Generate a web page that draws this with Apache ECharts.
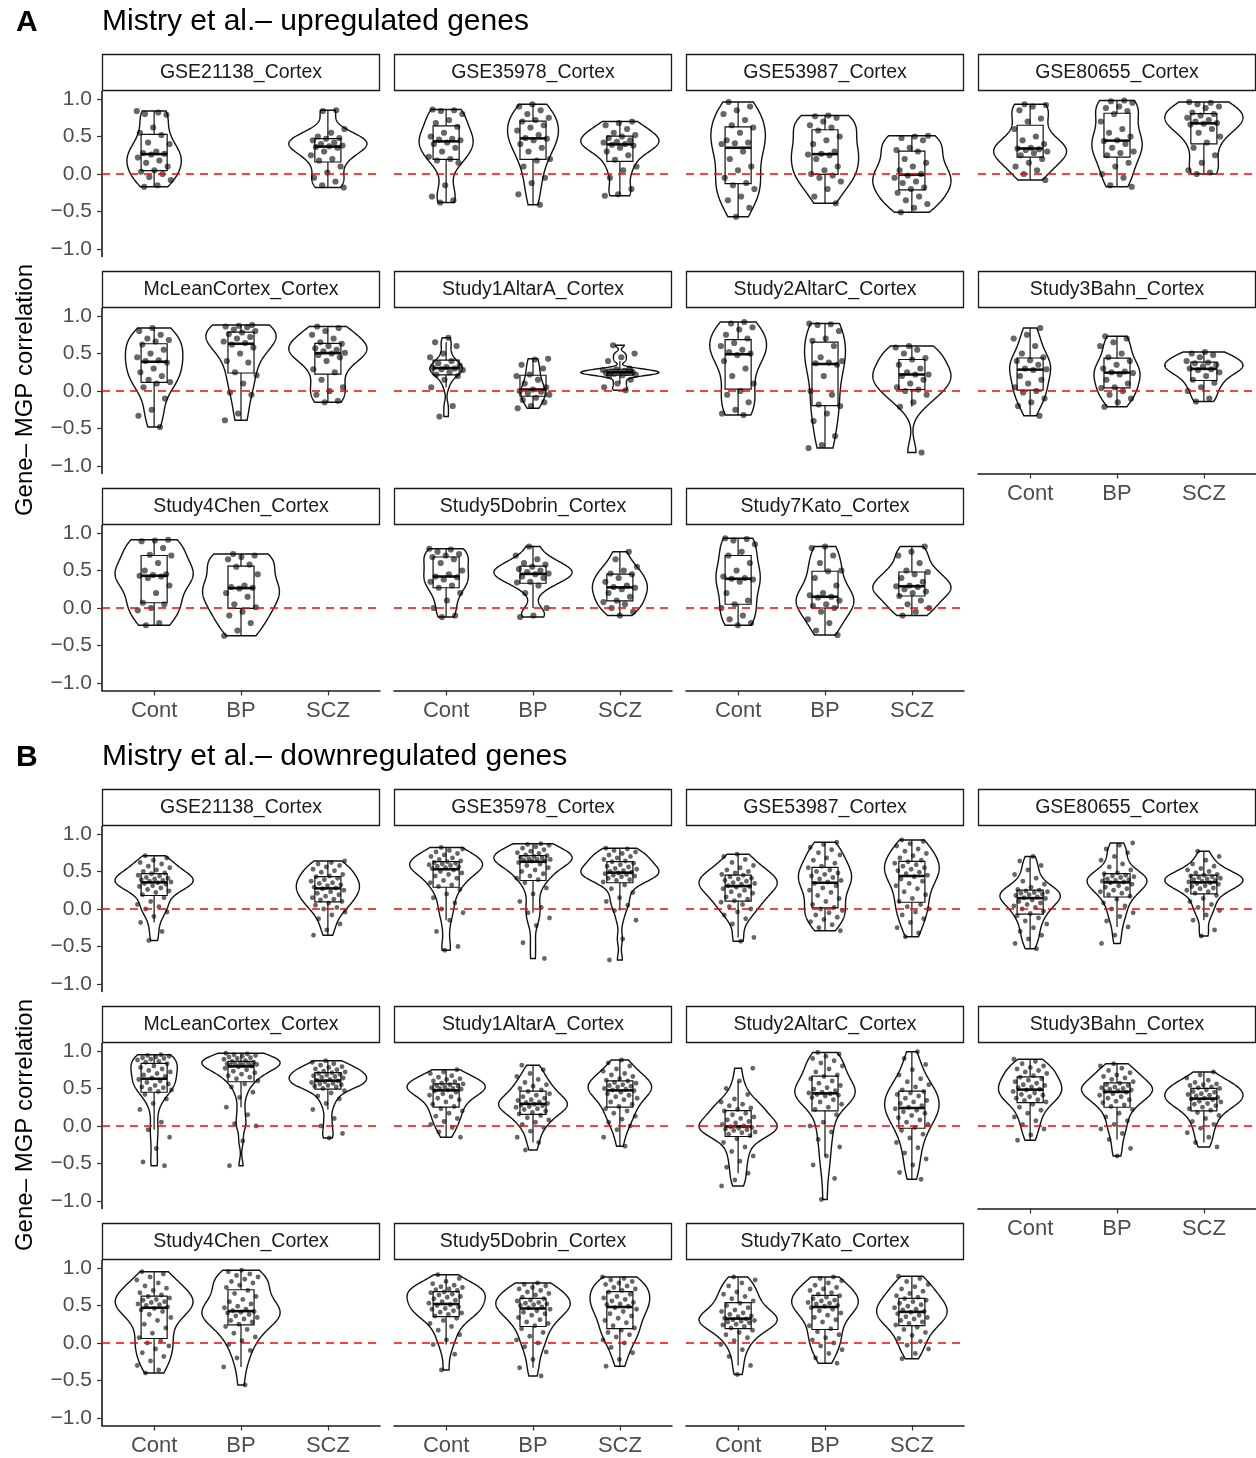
<!DOCTYPE html>
<html>
<head>
<meta charset="utf-8">
<script src="https://cdn.jsdelivr.net/npm/echarts@6/dist/echarts.min.js"></script>
<style>
  html, body { margin: 0; padding: 0; background: #fff; }
  #chart { width: 1256px; height: 1458px; }
</style>
</head>
<body>
<div id="chart"></div>
<script>
// facets (wrap order) and groups
const studies = ['GSE21138_Cortex', 'GSE35978_Cortex', 'GSE53987_Cortex', 'GSE80655_Cortex',
  'McLeanCortex_Cortex', 'Study1AltarA_Cortex', 'Study2AltarC_Cortex', 'Study3Bahn_Cortex',
  'Study4Chen_Cortex', 'Study5Dobrin_Cortex', 'Study7Kato_Cortex']
const groups = ['Cont', 'BP', 'SCZ']
const yTicks = [-1, -0.5, 0, 0.5, 1]

// A - upregulated genes: gene-MGP correlations per group [Cont, BP, SCZ]
const upGSE21138 = [
  [0.84,0.82,0.80,0.79,0.62,0.55,0.52,0.42,0.40,0.30,0.28,0.27,0.26,0.22,0.18,0.15,0.10,0.05,0.03,0.0,-0.04,-0.08,-0.15,-0.17],
  null,
  [0.85,0.84,0.60,0.55,0.50,0.48,0.47,0.45,0.42,0.40,0.38,0.37,0.36,0.35,0.30,0.25,0.20,0.18,0.10,0.02,-0.05,-0.10,-0.15,-0.18]
]
const upGSE35978 = [
  [0.86,0.85,0.84,0.80,0.72,0.68,0.63,0.55,0.50,0.47,0.46,0.45,0.42,0.40,0.35,0.30,0.23,0.20,0.18,0.15,-0.15,-0.30,-0.35,-0.38],
  [0.93,0.90,0.85,0.80,0.75,0.72,0.70,0.65,0.62,0.58,0.52,0.48,0.47,0.45,0.40,0.35,0.30,0.20,0.18,0.10,-0.05,-0.12,-0.27,-0.41],
  [0.70,0.68,0.65,0.60,0.55,0.52,0.50,0.48,0.45,0.43,0.42,0.40,0.39,0.38,0.35,0.30,0.25,0.19,0.10,0.05,-0.05,-0.20,-0.27,-0.29]
]
const upGSE53987 = [
  [0.96,0.90,0.85,0.80,0.72,0.65,0.62,0.55,0.45,0.42,0.41,0.40,0.30,0.20,0.10,0.05,-0.05,-0.12,-0.15,-0.20,-0.30,-0.35,-0.45,-0.57],
  [0.78,0.77,0.75,0.70,0.65,0.62,0.58,0.50,0.45,0.40,0.30,0.27,0.26,0.25,0.20,0.10,0.05,0.0,-0.02,-0.05,-0.10,-0.20,-0.30,-0.39],
  [0.51,0.50,0.48,0.45,0.35,0.32,0.30,0.20,0.15,0.10,0.05,0.0,-0.02,-0.05,-0.10,-0.12,-0.18,-0.20,-0.25,-0.30,-0.35,-0.40,-0.45,-0.51]
]
const upGSE80655 = [
  [0.93,0.92,0.90,0.85,0.74,0.70,0.60,0.50,0.45,0.40,0.35,0.34,0.33,0.32,0.30,0.28,0.25,0.20,0.15,0.10,0.05,0.0,-0.08],
  [0.98,0.97,0.95,0.90,0.88,0.84,0.80,0.70,0.60,0.55,0.50,0.45,0.44,0.40,0.35,0.30,0.28,0.25,0.15,0.10,0.0,-0.05,-0.15,-0.17],
  [0.96,0.95,0.93,0.90,0.88,0.82,0.80,0.78,0.75,0.72,0.70,0.68,0.67,0.66,0.60,0.55,0.50,0.42,0.35,0.25,0.15,0.05,0.02,0.0]
]
const upMcLean = [
  [0.84,0.80,0.75,0.70,0.68,0.66,0.62,0.55,0.50,0.45,0.41,0.40,0.38,0.30,0.25,0.20,0.15,0.12,0.10,0.05,-0.10,-0.25,-0.33,-0.48],
  [0.88,0.87,0.86,0.85,0.82,0.80,0.78,0.76,0.72,0.70,0.66,0.64,0.62,0.58,0.50,0.40,0.38,0.25,0.21,0.10,-0.02,-0.05,-0.30,-0.39],
  [0.86,0.84,0.80,0.75,0.70,0.65,0.63,0.60,0.57,0.55,0.53,0.51,0.50,0.48,0.45,0.40,0.29,0.25,0.15,0.05,0.0,-0.05,-0.13,-0.15]
]
const upStudy1AltarA = [
  [0.71,0.65,0.60,0.50,0.45,0.40,0.37,0.34,0.32,0.31,0.30,0.29,0.28,0.25,0.22,0.20,0.15,0.05,-0.20,-0.34],
  [0.43,0.42,0.35,0.30,0.22,0.20,0.15,0.10,0.05,0.02,0.0,-0.01,-0.03,-0.05,-0.09,-0.12,-0.15,-0.20,-0.23],
  [0.61,0.50,0.45,0.40,0.30,0.29,0.28,0.27,0.26,0.25,0.25,0.24,0.24,0.23,0.22,0.21,0.20,0.15,0.10,0.05,0.01]
]
const upStudy2AltarC = [
  [0.92,0.90,0.85,0.82,0.75,0.70,0.64,0.60,0.55,0.52,0.50,0.48,0.40,0.30,0.20,0.10,0.0,-0.05,-0.15,-0.25,-0.30,-0.32],
  [0.90,0.89,0.88,0.80,0.70,0.67,0.60,0.45,0.40,0.38,0.37,0.35,0.20,0.0,-0.05,-0.18,-0.20,-0.30,-0.40,-0.60,-0.72,-0.76],
  [0.60,0.58,0.55,0.50,0.44,0.42,0.35,0.30,0.25,0.22,0.22,0.20,0.15,0.10,0.05,0.02,0.0,-0.05,-0.15,-0.21,-0.82]
]
const upStudy3Bahn = [
  [0.84,0.75,0.70,0.60,0.50,0.45,0.41,0.40,0.35,0.30,0.29,0.28,0.20,0.15,0.10,0.05,0.0,-0.02,-0.10,-0.15,-0.20,-0.33],
  [0.73,0.70,0.65,0.60,0.50,0.45,0.40,0.35,0.30,0.26,0.25,0.24,0.22,0.15,0.10,0.05,0.04,0.0,-0.05,-0.10,-0.15,-0.21],
  [0.52,0.50,0.48,0.45,0.40,0.38,0.37,0.35,0.33,0.30,0.29,0.28,0.25,0.20,0.15,0.11,0.05,0.0,-0.10,-0.14]
]
const upStudy4Chen = [
  [0.91,0.90,0.89,0.80,0.71,0.70,0.60,0.50,0.45,0.44,0.43,0.42,0.40,0.30,0.20,0.07,0.05,0.0,-0.03,-0.20,-0.23],
  [0.72,0.70,0.68,0.65,0.58,0.55,0.45,0.30,0.28,0.27,0.26,0.20,0.15,0.05,0.01,-0.05,-0.10,-0.20,-0.30,-0.37],
  null
]
const upStudy5Dobrin = [
  [0.79,0.78,0.75,0.72,0.70,0.68,0.65,0.60,0.50,0.45,0.42,0.41,0.38,0.35,0.30,0.27,0.20,0.10,0.0,-0.10,-0.12],
  [0.82,0.70,0.65,0.60,0.58,0.55,0.52,0.50,0.48,0.46,0.45,0.42,0.40,0.35,0.34,0.30,0.20,0.0,-0.10,-0.12],
  [0.75,0.65,0.55,0.50,0.46,0.45,0.40,0.35,0.30,0.28,0.27,0.25,0.20,0.15,0.10,0.08,0.05,0.0,-0.05,-0.10]
]
const upStudy7Kato = [
  [0.93,0.92,0.90,0.85,0.75,0.70,0.60,0.50,0.42,0.40,0.39,0.38,0.35,0.20,0.10,0.05,0.0,-0.10,-0.15,-0.20,-0.23],
  [0.82,0.80,0.70,0.60,0.50,0.49,0.40,0.30,0.20,0.17,0.15,0.14,0.10,0.05,0.03,0.0,-0.05,-0.15,-0.20,-0.30,-0.36],
  [0.82,0.75,0.70,0.60,0.50,0.48,0.45,0.40,0.35,0.30,0.29,0.28,0.25,0.22,0.20,0.16,0.10,0.05,0.0,-0.05,-0.10]
]

// B - downregulated genes
const downGSE21138 = [
  [0.71,0.68,0.65,0.62,0.60,0.57,0.55,0.52,0.50,0.48,0.47,0.45,0.44,0.42,0.41,0.40,0.39,0.38,0.37,0.36,0.35,0.34,0.33,0.31,0.30,0.28,0.26,0.24,0.22,0.19,0.15,0.10,0.06,0.03,0.0,-0.04,-0.10,-0.18,-0.30,-0.42],
  null,
  [0.64,0.62,0.60,0.58,0.56,0.53,0.51,0.49,0.46,0.44,0.43,0.41,0.39,0.37,0.35,0.34,0.32,0.31,0.29,0.28,0.27,0.25,0.23,0.21,0.19,0.17,0.15,0.13,0.12,0.10,0.08,0.05,0.02,0.0,-0.04,-0.08,-0.13,-0.20,-0.28,-0.35]
]
const downGSE35978 = [
  [0.82,0.80,0.78,0.76,0.74,0.72,0.70,0.68,0.66,0.64,0.63,0.62,0.61,0.60,0.59,0.58,0.57,0.56,0.55,0.54,0.52,0.50,0.48,0.46,0.44,0.41,0.38,0.35,0.32,0.30,0.26,0.20,0.15,0.08,0.0,-0.05,-0.15,-0.30,-0.50,-0.55],
  [0.87,0.86,0.85,0.83,0.81,0.79,0.77,0.75,0.74,0.72,0.71,0.70,0.69,0.68,0.67,0.66,0.66,0.65,0.64,0.64,0.62,0.60,0.58,0.55,0.52,0.50,0.47,0.44,0.41,0.39,0.35,0.28,0.20,0.10,0.02,-0.05,-0.12,-0.22,-0.45,-0.66],
  [0.81,0.80,0.78,0.76,0.74,0.72,0.70,0.68,0.66,0.64,0.63,0.61,0.59,0.57,0.56,0.54,0.53,0.51,0.50,0.49,0.48,0.47,0.46,0.45,0.44,0.43,0.41,0.39,0.38,0.36,0.32,0.27,0.22,0.15,0.10,0.05,-0.02,-0.15,-0.40,-0.68]
]
const downGSE53987 = [
  [0.73,0.70,0.66,0.62,0.58,0.55,0.52,0.50,0.48,0.46,0.45,0.43,0.41,0.40,0.38,0.37,0.35,0.34,0.33,0.31,0.30,0.29,0.27,0.25,0.23,0.21,0.18,0.16,0.13,0.11,0.09,0.06,0.03,0.0,-0.04,-0.08,-0.13,-0.20,-0.38,-0.43],
  [0.89,0.86,0.82,0.79,0.75,0.72,0.68,0.65,0.61,0.57,0.55,0.52,0.50,0.48,0.46,0.44,0.42,0.40,0.38,0.36,0.34,0.31,0.28,0.25,0.22,0.18,0.14,0.10,0.06,0.02,0.0,-0.02,-0.05,-0.08,-0.11,-0.14,-0.17,-0.21,-0.25,-0.29],
  [0.92,0.90,0.87,0.84,0.80,0.77,0.74,0.71,0.68,0.65,0.63,0.61,0.59,0.57,0.55,0.53,0.51,0.49,0.47,0.45,0.43,0.40,0.37,0.34,0.31,0.27,0.23,0.19,0.14,0.10,0.06,0.03,0.0,-0.04,-0.08,-0.13,-0.18,-0.25,-0.32,-0.37]
]
const downGSE80655 = [
  [0.70,0.64,0.58,0.52,0.46,0.41,0.37,0.33,0.29,0.26,0.25,0.24,0.23,0.22,0.21,0.20,0.19,0.18,0.16,0.15,0.14,0.12,0.10,0.08,0.06,0.04,0.02,0.0,-0.03,-0.06,-0.09,-0.12,-0.16,-0.20,-0.25,-0.30,-0.35,-0.40,-0.46,-0.53],
  [0.88,0.85,0.80,0.75,0.70,0.65,0.60,0.56,0.52,0.48,0.47,0.45,0.44,0.43,0.42,0.40,0.39,0.38,0.37,0.36,0.35,0.33,0.31,0.29,0.27,0.25,0.23,0.21,0.19,0.17,0.13,0.08,0.04,0.0,-0.05,-0.10,-0.16,-0.24,-0.35,-0.46],
  [0.77,0.70,0.65,0.60,0.57,0.54,0.52,0.50,0.48,0.46,0.45,0.44,0.43,0.42,0.41,0.40,0.39,0.38,0.37,0.36,0.35,0.34,0.33,0.31,0.30,0.28,0.27,0.25,0.23,0.21,0.18,0.14,0.10,0.06,0.02,-0.02,-0.08,-0.15,-0.28,-0.36]
]
const downMcLean = [
  [0.95,0.94,0.93,0.92,0.91,0.90,0.89,0.88,0.86,0.85,0.83,0.80,0.78,0.76,0.74,0.72,0.70,0.68,0.66,0.64,0.62,0.60,0.58,0.56,0.54,0.52,0.51,0.49,0.48,0.46,0.42,0.36,0.30,0.22,0.05,-0.05,-0.15,-0.30,-0.48,-0.53],
  [0.97,0.96,0.95,0.94,0.93,0.92,0.91,0.90,0.89,0.87,0.86,0.85,0.84,0.83,0.83,0.82,0.82,0.81,0.81,0.80,0.79,0.77,0.75,0.73,0.71,0.69,0.67,0.65,0.63,0.60,0.56,0.52,0.45,0.38,0.25,0.15,0.03,0.0,-0.20,-0.53],
  [0.87,0.85,0.83,0.81,0.79,0.78,0.76,0.75,0.73,0.72,0.71,0.70,0.69,0.68,0.67,0.66,0.65,0.64,0.62,0.61,0.60,0.59,0.58,0.57,0.56,0.55,0.54,0.53,0.52,0.50,0.47,0.44,0.40,0.36,0.30,0.22,0.10,0.0,-0.10,-0.16]
]
const downStudy1AltarA = [
  [0.75,0.72,0.70,0.67,0.65,0.63,0.62,0.60,0.59,0.57,0.56,0.55,0.54,0.53,0.52,0.51,0.50,0.50,0.49,0.48,0.47,0.45,0.43,0.41,0.39,0.37,0.35,0.32,0.29,0.26,0.23,0.20,0.17,0.13,0.10,0.06,0.02,-0.02,-0.08,-0.15],
  [0.81,0.75,0.70,0.66,0.62,0.58,0.55,0.53,0.50,0.48,0.46,0.43,0.41,0.39,0.37,0.35,0.34,0.32,0.31,0.30,0.29,0.28,0.27,0.26,0.25,0.23,0.22,0.20,0.18,0.16,0.14,0.11,0.08,0.05,0.02,-0.02,-0.07,-0.15,-0.22,-0.32],
  [0.88,0.84,0.80,0.76,0.73,0.70,0.68,0.66,0.63,0.61,0.60,0.58,0.57,0.55,0.54,0.53,0.52,0.50,0.49,0.48,0.47,0.45,0.43,0.41,0.39,0.37,0.35,0.32,0.29,0.26,0.23,0.20,0.17,0.13,0.09,0.05,0.0,-0.05,-0.15,-0.27]
]
const downStudy2AltarC = [
  [0.77,0.60,0.50,0.42,0.36,0.32,0.29,0.27,0.24,0.22,0.20,0.17,0.15,0.12,0.10,0.08,0.06,0.04,0.02,0.0,-0.01,-0.02,-0.03,-0.04,-0.05,-0.06,-0.08,-0.09,-0.11,-0.13,-0.17,-0.22,-0.28,-0.34,-0.40,-0.47,-0.55,-0.63,-0.72,-0.80],
  [0.98,0.96,0.93,0.90,0.87,0.84,0.80,0.76,0.72,0.68,0.66,0.63,0.60,0.57,0.54,0.51,0.49,0.47,0.45,0.44,0.43,0.42,0.41,0.40,0.38,0.35,0.32,0.29,0.25,0.22,0.15,0.05,0.0,-0.08,-0.18,-0.28,-0.40,-0.52,-0.70,-0.98],
  [0.99,0.90,0.82,0.75,0.68,0.63,0.59,0.55,0.52,0.48,0.46,0.44,0.42,0.40,0.37,0.34,0.32,0.30,0.27,0.25,0.23,0.21,0.19,0.17,0.14,0.11,0.08,0.05,0.02,-0.02,-0.06,-0.11,-0.16,-0.22,-0.29,-0.36,-0.44,-0.52,-0.62,-0.71]
]
const downStudy3Bahn = [
  [0.89,0.86,0.83,0.80,0.78,0.76,0.74,0.72,0.70,0.67,0.65,0.63,0.61,0.59,0.57,0.55,0.54,0.52,0.51,0.49,0.48,0.46,0.44,0.42,0.41,0.39,0.37,0.35,0.34,0.32,0.29,0.25,0.21,0.17,0.12,0.07,0.02,-0.04,-0.12,-0.19],
  [0.83,0.80,0.77,0.74,0.71,0.68,0.66,0.64,0.62,0.59,0.57,0.55,0.54,0.52,0.51,0.50,0.49,0.48,0.47,0.46,0.45,0.43,0.41,0.39,0.37,0.35,0.33,0.31,0.28,0.26,0.22,0.17,0.12,0.07,0.02,-0.04,-0.10,-0.18,-0.30,-0.40],
  [0.72,0.68,0.64,0.61,0.58,0.56,0.55,0.54,0.52,0.51,0.50,0.48,0.46,0.45,0.43,0.42,0.41,0.40,0.38,0.37,0.36,0.35,0.33,0.32,0.30,0.29,0.27,0.25,0.23,0.21,0.18,0.14,0.10,0.06,0.02,-0.03,-0.09,-0.15,-0.22,-0.28]
]
const downStudy4Chen = [
  [0.95,0.92,0.88,0.84,0.80,0.76,0.73,0.70,0.67,0.64,0.62,0.60,0.58,0.57,0.55,0.54,0.52,0.51,0.50,0.48,0.46,0.44,0.42,0.38,0.34,0.30,0.25,0.20,0.13,0.07,0.03,0.0,-0.04,-0.08,-0.13,-0.18,-0.24,-0.30,-0.36,-0.40],
  [0.97,0.95,0.92,0.90,0.88,0.85,0.82,0.80,0.77,0.74,0.70,0.66,0.62,0.58,0.55,0.52,0.49,0.47,0.45,0.43,0.42,0.41,0.40,0.38,0.36,0.34,0.32,0.30,0.28,0.25,0.22,0.18,0.13,0.08,0.03,-0.02,-0.10,-0.20,-0.32,-0.56],
  null
]
const downStudy5Dobrin = [
  [0.91,0.86,0.82,0.79,0.77,0.75,0.74,0.72,0.71,0.70,0.68,0.67,0.65,0.64,0.62,0.61,0.59,0.57,0.55,0.53,0.51,0.50,0.48,0.46,0.45,0.43,0.41,0.40,0.38,0.36,0.33,0.30,0.26,0.22,0.17,0.11,0.04,-0.02,-0.15,-0.36],
  [0.80,0.78,0.76,0.74,0.72,0.70,0.68,0.66,0.64,0.61,0.59,0.57,0.56,0.54,0.53,0.52,0.51,0.50,0.48,0.47,0.45,0.43,0.41,0.39,0.37,0.34,0.31,0.28,0.26,0.23,0.19,0.14,0.09,0.04,0.0,-0.05,-0.12,-0.22,-0.33,-0.44],
  [0.88,0.86,0.84,0.82,0.80,0.78,0.76,0.74,0.72,0.70,0.68,0.65,0.62,0.60,0.58,0.56,0.54,0.52,0.51,0.49,0.47,0.45,0.42,0.39,0.36,0.33,0.30,0.27,0.23,0.20,0.17,0.14,0.11,0.08,0.04,0.0,-0.06,-0.13,-0.22,-0.31]
]
const downStudy7Kato = [
  [0.88,0.84,0.80,0.76,0.72,0.68,0.65,0.62,0.59,0.56,0.53,0.50,0.47,0.44,0.42,0.40,0.38,0.36,0.35,0.33,0.32,0.31,0.30,0.29,0.28,0.27,0.25,0.24,0.22,0.20,0.17,0.14,0.11,0.07,0.03,-0.02,-0.09,-0.18,-0.30,-0.42],
  [0.88,0.86,0.83,0.80,0.77,0.74,0.72,0.70,0.67,0.65,0.63,0.61,0.59,0.57,0.56,0.54,0.53,0.52,0.50,0.49,0.47,0.45,0.43,0.40,0.37,0.34,0.31,0.28,0.23,0.19,0.15,0.11,0.07,0.04,0.0,-0.04,-0.09,-0.14,-0.20,-0.27],
  [0.89,0.86,0.82,0.78,0.75,0.72,0.69,0.66,0.63,0.61,0.59,0.57,0.55,0.53,0.51,0.49,0.47,0.45,0.44,0.42,0.41,0.39,0.37,0.35,0.34,0.32,0.30,0.28,0.26,0.24,0.21,0.18,0.14,0.10,0.06,0.02,-0.03,-0.08,-0.14,-0.21]
]

const upSets = [upGSE21138, upGSE35978, upGSE53987, upGSE80655, upMcLean, upStudy1AltarA,
  upStudy2AltarC, upStudy3Bahn, upStudy4Chen, upStudy5Dobrin, upStudy7Kato]
const downSets = [downGSE21138, downGSE35978, downGSE53987, downGSE80655, downMcLean, downStudy1AltarA,
  downStudy2AltarC, downStudy3Bahn, downStudy4Chen, downStudy5Dobrin, downStudy7Kato]

const panels = [
  { letter: 'A', title: 'Mistry et al.\u2013 upregulated genes', sets: upSets, offset: 0, dot: 6.2 },
  { letter: 'B', title: 'Mistry et al.\u2013 downregulated genes', sets: downSets, offset: 735, dot: 4.8 }
]

const FONT = '"Liberation Sans", Arial, Helvetica, sans-serif'
const COL_LEFT = [102, 394, 686, 978]
const PANEL_W = 278
const PANEL_H = 165
const ROW_STEP = 217

// type 7 quantile, as R
function quantile(s, p) {
  const h = (s.length - 1) * p
  const lo = Math.floor(h), hi = Math.ceil(h)
  return s[lo] + (h - lo) * (s[hi] - s[lo])
}

function boxStats(vals) {
  const s = vals.slice().sort((a, b) => a - b)
  const q1 = quantile(s, 0.25), med = quantile(s, 0.5), q3 = quantile(s, 0.75)
  const iqr = q3 - q1
  const lo = s.find(v => v >= q1 - 1.5 * iqr)
  const hi = s.slice().reverse().find(v => v <= q3 + 1.5 * iqr)
  return { q1, med, q3, lo, hi }
}

// gaussian kde with bw.nrd0, trimmed to data range
function density(vals) {
  const s = vals.slice().sort((a, b) => a - b)
  const n = s.length
  const mean = s.reduce((a, b) => a + b, 0) / n
  const sd = Math.sqrt(s.reduce((a, b) => a + (b - mean) * (b - mean), 0) / (n - 1))
  let lo = Math.min(sd, (quantile(s, 0.75) - quantile(s, 0.25)) / 1.34)
  if (!lo) lo = sd || Math.abs(s[0]) || 1
  const bw = 0.9 * lo * Math.pow(n, -0.2)
  const out = []
  const N = 160
  for (let i = 0; i < N; i++) {
    const y = s[0] + (s[n - 1] - s[0]) * i / (N - 1)
    let d = 0
    for (const x of s) {
      const z = (y - x) / bw
      d += Math.exp(-0.5 * z * z)
    }
    out.push([y, d / (n * bw * Math.sqrt(2 * Math.PI))])
  }
  return out
}

function jitter(k, gi, fi) {
  const u = (k * 0.6180339887 + gi * 0.37 + fi * 0.113) % 1
  return (u - 0.5) * 0.4
}

function fmtY(v) {
  return (v < 0 ? '\u2212' : '') + Math.abs(v).toFixed(1)
}

const option = {
  animation: false,
  backgroundColor: '#fff',
  grid: [],
  xAxis: [],
  yAxis: [],
  series: [],
  graphic: []
}

panels.forEach((pn, pi) => {
  // panel letter + title
  option.graphic.push({
    type: 'text', x: 16, y: 23 + pn.offset,
    style: { text: pn.letter, fontSize: 30, fontWeight: 'bold', fontFamily: FONT, fill: '#000', verticalAlign: 'middle' }
  })
  option.graphic.push({
    type: 'text', x: 102, y: 22 + pn.offset,
    style: { text: pn.title, fontSize: 30, fontFamily: FONT, fill: '#000', verticalAlign: 'middle' }
  })
  // y title
  option.graphic.push({
    type: 'text', x: 25, y: 390 + pn.offset, rotation: Math.PI / 2,
    style: { text: 'Gene\u2013 MGP correlation', fontSize: 24, fontFamily: FONT, fill: '#000', align: 'center', verticalAlign: 'middle' }
  })

  pn.sets.forEach((set, si) => {
    const fi = pi * studies.length + si
    const row = Math.floor(si / 4)
    const col = si % 4
    const stripTop = 54 + pn.offset + row * ROW_STEP
    const top = stripTop + 37.5
    const left = COL_LEFT[col]
    const isBottom = si + 4 >= studies.length
    const isLeft = col === 0

    // strip
    option.graphic.push({
      type: 'rect', shape: { x: left + 0.5, y: stripTop + 0.5, width: PANEL_W - 1, height: 36 },
      style: { fill: '#fff', stroke: '#1a1a1a', lineWidth: 1.3 }
    })
    option.graphic.push({
      type: 'text', x: left + PANEL_W / 2, y: stripTop + 19,
      style: { text: studies[si], fontSize: 19.5, fontFamily: FONT, fill: '#1a1a1a', align: 'center', verticalAlign: 'middle' }
    })

    option.grid.push({ left: left, top: top, width: PANEL_W, height: PANEL_H })
    option.xAxis.push({
      gridIndex: fi, type: 'value', min: 0.4, max: 3.6, show: isBottom,
      axisLine: { show: true, onZero: false, lineStyle: { color: '#1a1a1a', width: 1.6 } },
      axisTick: { show: true, customValues: [1, 2, 3], length: 5, lineStyle: { color: '#333', width: 1.2 } },
      axisLabel: {
        customValues: [1, 2, 3], formatter: v => groups[Math.round(v) - 1],
        fontSize: 22, fontFamily: FONT, color: '#4d4d4d', margin: 9
      },
      splitLine: { show: false }
    })
    option.yAxis.push({
      gridIndex: fi, type: 'value', min: -1.1, max: 1.1, show: isLeft,
      axisLine: { show: true, onZero: false, lineStyle: { color: '#1a1a1a', width: 1.6 } },
      axisTick: { show: true, customValues: yTicks, length: 5, lineStyle: { color: '#333', width: 1.2 } },
      axisLabel: { customValues: yTicks, formatter: fmtY, fontSize: 21, fontFamily: FONT, color: '#4d4d4d', margin: 10 },
      splitLine: { show: false }
    })

    // stats per group
    const curves = set.map(v => v ? density(v) : null)
    const maxD = Math.max(...curves.filter(c => c).map(c => Math.max(...c.map(p => p[1]))))
    const stats = set.map(v => v ? boxStats(v) : null)
    const present = []
    set.forEach((v, gi) => { if (v) present.push([gi + 1, 0]) })

    // violins
    option.series.push({
      type: 'custom', xAxisIndex: fi, yAxisIndex: fi, silent: true, z: 1,
      data: present,
      renderItem: (params, api) => {
        const x = api.value(0)
        const c = curves[x - 1]
        const right = c.map(p => api.coord([x + p[1] / maxD * 0.45, p[0]]))
        const leftSide = c.slice().reverse().map(p => api.coord([x - p[1] / maxD * 0.45, p[0]]))
        return {
          type: 'polygon', shape: { points: right.concat(leftSide) },
          style: { fill: '#fff', stroke: '#111', lineWidth: 1.4 }
        }
      }
    })
    // boxplots
    option.series.push({
      type: 'custom', xAxisIndex: fi, yAxisIndex: fi, silent: true, z: 2,
      data: present,
      renderItem: (params, api) => {
        const x = api.value(0)
        const b = stats[x - 1]
        const hw = 0.15
        const p1 = api.coord([x - hw, b.q3])
        const p2 = api.coord([x + hw, b.q1])
        const ln = (a, c, w) => ({
          type: 'line', shape: { x1: a[0], y1: a[1], x2: c[0], y2: c[1] },
          style: { stroke: '#111', lineWidth: w }
        })
        return {
          type: 'group', children: [
            ln(api.coord([x, b.q3]), api.coord([x, b.hi]), 1.2),
            ln(api.coord([x, b.q1]), api.coord([x, b.lo]), 1.2),
            {
              type: 'rect', shape: { x: p1[0], y: p1[1], width: p2[0] - p1[0], height: p2[1] - p1[1] },
              style: { fill: 'rgba(0,0,0,0)', stroke: '#111', lineWidth: 1.2 }
            },
            ln(api.coord([x - hw, b.med]), api.coord([x + hw, b.med]), 2.6)
          ]
        }
      }
    })
    // jittered points
    const pts = []
    set.forEach((v, gi) => {
      if (!v) return
      v.forEach((val, k) => pts.push([gi + 1 + jitter(k, gi, fi), val]))
    })
    option.series.push({
      type: 'scatter', xAxisIndex: fi, yAxisIndex: fi, silent: true, z: 3,
      symbolSize: pn.dot, data: pts,
      itemStyle: { color: '#000', opacity: 0.6 }
    })
    // zero reference line
    option.series.push({
      type: 'custom', xAxisIndex: fi, yAxisIndex: fi, silent: true, z: 4,
      data: [[2, 0]],
      renderItem: (params, api) => {
        const cs = params.coordSys
        const y = api.coord([2, api.value(1)])[1]
        return {
          type: 'line', shape: { x1: cs.x, y1: y, x2: cs.x + cs.width, y2: y },
          style: { stroke: '#ff0000', lineWidth: 1.5, lineDash: [8, 6] }
        }
      }
    })
  })
})

const chart = echarts.init(document.getElementById('chart'))
chart.setOption(option)
</script>
</body>
</html>
